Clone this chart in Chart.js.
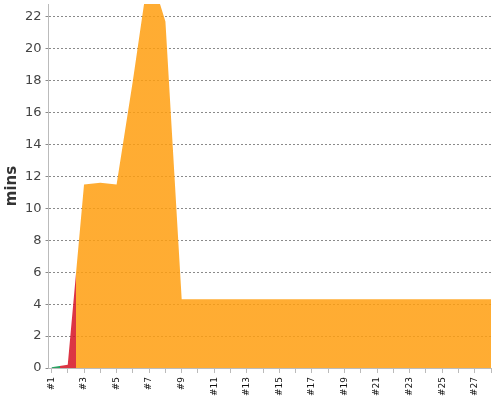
<!DOCTYPE html>
<html>
<head>
<meta charset="utf-8">
<script src="https://cdn.jsdelivr.net/npm/chart.js@4.4.1/dist/chart.umd.min.js"></script>
<style>
  html, body { margin: 0; padding: 0; background: #fff; }
  #wrap { width: 500px; height: 400px; }
</style>
</head>
<body>
<div id="wrap"><canvas id="myChart"></canvas></div>
<script>
let labels = ["#1", "#2", "#3", "#4", "#5", "#6", "#7", "#8", "#9", "#10",
  "#11", "#12", "#13", "#14", "#15", "#16", "#17", "#18", "#19", "#20",
  "#21", "#22", "#23", "#24", "#25", "#26", "#27", "#28"];
let mins = [0.05, 0.2, 11.5, 11.6, 11.5, 18.0, 25.0, 21.7, 4.3, 4.3,
  4.3, 4.3, 4.3, 4.3, 4.3, 4.3, 4.3, 4.3, 4.3, 4.3,
  4.3, 4.3, 4.3, 4.3, 4.3, 4.3, 4.3, 4.3];
// colour of the area around each point
let status = ["ok", "bad", "warn", "warn", "warn", "warn", "warn", "warn", "warn", "warn",
  "warn", "warn", "warn", "warn", "warn", "warn", "warn", "warn", "warn", "warn",
  "warn", "warn", "warn", "warn", "warn", "warn", "warn", "warn"];
let statusColors = {
  ok: "rgba(4, 145, 70, 0.85)",
  bad: "rgba(214, 18, 35, 0.85)",
  warn: "rgba(255, 158, 15, 0.85)"
};

// points placed by run index so the x axis can start a little before #1
let points = mins.map((v, i) => ({ x: i, y: v }));

// horizontal gradient with hard stops half way between points of different status
function areaColor(context) {
  let chart = context.chart;
  let area = chart.chartArea;
  if (!area) return statusColors.warn;
  let x = chart.scales.x;
  let w = area.right - area.left;
  let g = chart.ctx.createLinearGradient(area.left, 0, area.right, 0);
  g.addColorStop(0, statusColors[status[0]]);
  for (let i = 0; i < status.length - 1; i++) {
    if (status[i] !== status[i + 1]) {
      let px = (x.getPixelForValue(i) + x.getPixelForValue(i + 1)) / 2;
      let f = Math.min(1, Math.max(0, (px - area.left) / w));
      g.addColorStop(f, statusColors[status[i]]);
      g.addColorStop(f, statusColors[status[i + 1]]);
    }
  }
  g.addColorStop(1, statusColors[status[status.length - 1]]);
  return g;
}

// drop the extra room chart.js keeps for the end labels
function noEdgePadding(scale) {
  scale.paddingTop = 0;
  scale.paddingBottom = 0;
  scale.paddingLeft = 0;
  scale.paddingRight = 0;
}

let ctx = document.getElementById("myChart").getContext("2d");

let chart = new Chart(ctx, {
  type: "line",
  data: {
    datasets: [{
      label: "mins",
      data: points,
      fill: "origin",
      backgroundColor: areaColor,
      borderWidth: 0,
      pointRadius: 0,
      tension: 0
    }]
  },
  options: {
    responsive: true,
    maintainAspectRatio: false,
    animation: false,
    layout: { padding: { top: 4, right: 9, left: 3, bottom: 0 } },
    plugins: {
      legend: { display: false },
      tooltip: { enabled: false }
    },
    scales: {
      x: {
        type: "linear",
        min: -0.18,
        max: labels.length - 1,
        afterFit: noEdgePadding,
        border: { display: true, color: "#bbb" },
        grid: { drawOnChartArea: false, drawTicks: true, tickLength: 5, color: "#bbb" },
        ticks: {
          stepSize: 1,
          includeBounds: false,
          autoSkip: false,
          minRotation: 90,
          maxRotation: 90,
          padding: 4,
          color: "#111",
          font: { family: "DejaVu Sans", size: 9 },
          callback: function (value) {
            return Number.isInteger(value) && value % 2 === 0 ? labels[value] : "";
          }
        }
      },
      y: {
        min: 0,
        max: 22.8,
        afterFit: noEdgePadding,
        border: { display: true, color: "#bbb", dash: [2, 2] },
        grid: { color: "rgba(60, 60, 60, 0.6)", tickLength: 3 },
        ticks: {
          stepSize: 2,
          includeBounds: false,
          padding: 4,
          color: "#444",
          font: { family: "DejaVu Sans", size: 13 }
        },
        title: {
          display: true,
          text: "mins",
          color: "#333",
          padding: { top: 0, bottom: 0 },
          font: { family: "DejaVu Sans", size: 15, weight: "bold" }
        }
      }
    }
  }
});
</script>
</body>
</html>
